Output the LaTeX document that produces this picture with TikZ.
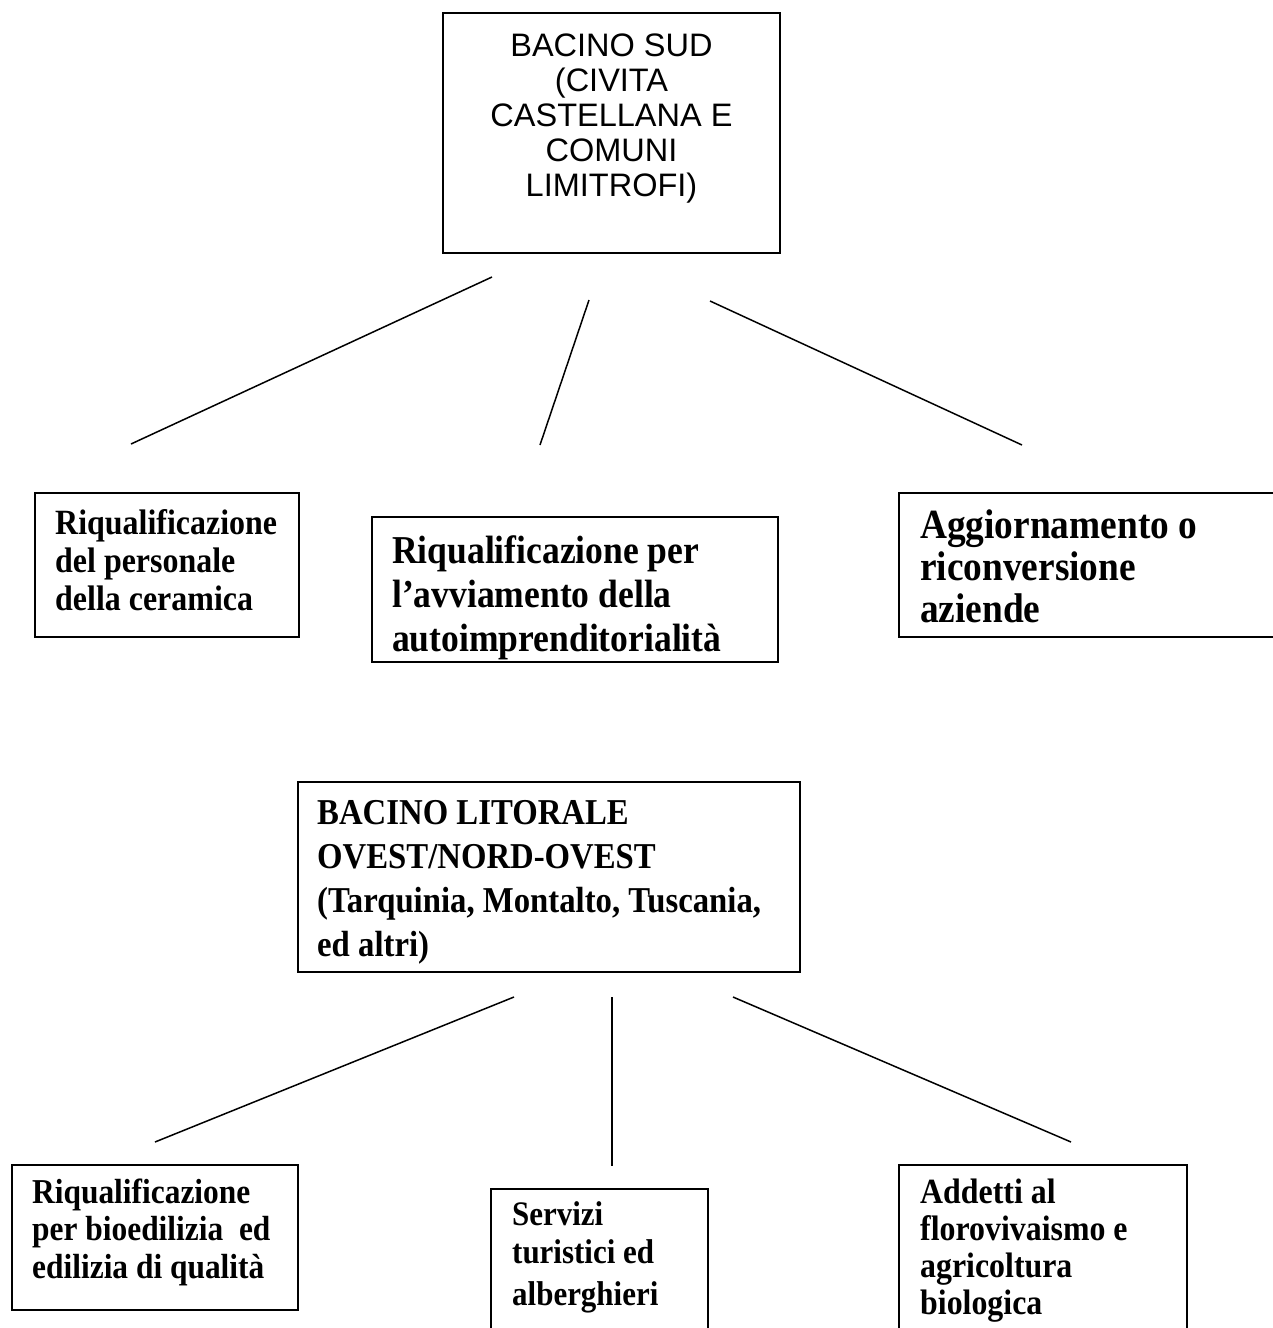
\documentclass[tikz,border=0pt]{standalone}
\usepackage{fontspec}
\setmainfont{Liberation Serif}[FakeStretch=0.9]
\newfontfamily\arialfont{Liberation Sans}

% stacked lines with a fixed pitch; the first line sits on the node's baseline
\newcommand{\stackC}[1]{\vtop{\lineskiplimit=-100pt\lineskip=0pt\halign{\hfil##\hfil\cr#1\crcr}}}
\newcommand{\stackL}[1]{\vtop{\lineskiplimit=-100pt\lineskip=0pt\halign{##\hfil\cr#1\crcr}}}

\tikzset{
  frame/.style={draw=black, line width=1.6pt, anchor=north west, inner sep=0pt, outer sep=0pt},
  conn/.style={draw=black, line width=1.5pt},
  sanstext/.style={inner sep=0pt, anchor=base, font=\arialfont\fontsize{32.5pt}{35pt}\selectfont},
  bodytext/.style={inner sep=0pt, anchor=base west},
}

\begin{document}
\begin{tikzpicture}[x=1pt, y=-1pt]
  \useasboundingbox (0,0) rectangle (1273,1328);
  \clip (0,0) rectangle (1273,1328);

  % ---- Bacino Sud ----
  \node[frame, minimum width=337pt, minimum height=240pt] (sud) at (443,13) {};
  \node[sanstext] (sudtxt) at (611.5,56)
    {\stackC{BACINO SUD\cr(CIVITA\cr CASTELLANA E\cr COMUNI\cr LIMITROFI)}};

  \node[frame, minimum width=264pt, minimum height=144pt] (ceram) at (35,493) {};
  \node[bodytext, font=\bfseries\fontsize{35.5pt}{38pt}\selectfont] (ceramtxt) at (55,534)
    {\stackL{Riqualificazione\cr del personale\cr della ceramica}};

  \node[frame, minimum width=406pt, minimum height=145pt] (auto) at (372,517) {};
  \begin{scope}
    \clip (373,518) rectangle (777,661);
    \node[bodytext, font=\bfseries\fontsize{39.5pt}{44pt}\selectfont] (autotxt) at (392,563)
      {\stackL{Riqualificazione per\cr l’avviamento della\cr autoimprenditorialità}};
  \end{scope}

  \node[frame, minimum width=420pt, minimum height=144pt] (azie) at (899,493) {};
  \node[bodytext, font=\bfseries\fontsize{41.5pt}{42pt}\selectfont] (azietxt) at (920,538)
    {\stackL{Aggiornamento o\cr riconversione\cr aziende}};

  \coordinate (s1a) at (492,277);  \coordinate (s1b) at (131,444);
  \coordinate (s2a) at (589,300);  \coordinate (s2b) at (540,445);
  \coordinate (s3a) at (710,301);  \coordinate (s3b) at (1022,445);
  \draw[conn] (s1a) -- (s1b);
  \draw[conn] (s2a) -- (s2b);
  \draw[conn] (s3a) -- (s3b);

  % ---- Bacino Litorale ----
  \node[frame, minimum width=502pt, minimum height=190pt] (lito) at (298,782) {};
  \node[bodytext, font=\bfseries\fontsize{36.4pt}{44pt}\selectfont] (litotxt) at (317,824)
    {\stackL{BACINO LITORALE\cr OVEST/NORD-OVEST\cr(Tarquinia, Montalto, Tuscania,\cr ed altri)}};

  \node[frame, minimum width=286pt, minimum height=145pt] (bio) at (12,1165) {};
  \node[bodytext, font=\bfseries\fontsize{34.9pt}{37.5pt}\selectfont] (biotxt) at (32,1203)
    {\stackL{Riqualificazione\cr per bioedilizia~ ed\cr edilizia di qualità}};

  \node[frame, minimum width=217pt, minimum height=200pt] (turi) at (491,1189) {};
  \node[bodytext, font=\bfseries\fontsize{34.4pt}{38pt}\selectfont] (turitxt) at (512,1225)
    {\stackL{Servizi\cr turistici ed\cr\noalign{\vskip4pt}alberghieri}};

  \node[frame, minimum width=288pt, minimum height=200pt] (flor) at (899,1165) {};
  \node[bodytext, font=\bfseries\fontsize{35.4pt}{37pt}\selectfont] (flortxt) at (920,1203)
    {\stackL{Addetti al\cr florovivaismo e\cr agricoltura\cr biologica}};

  \coordinate (l1a) at (514,997);  \coordinate (l1b) at (155,1142);
  \coordinate (l2a) at (612,997);  \coordinate (l2b) at (612,1166);
  \coordinate (l3a) at (733,997);  \coordinate (l3b) at (1071,1142);
  \draw[conn] (l1a) -- (l1b);
  \draw[conn] (l2a) -- (l2b);
  \draw[conn] (l3a) -- (l3b);
\end{tikzpicture}
\end{document}
